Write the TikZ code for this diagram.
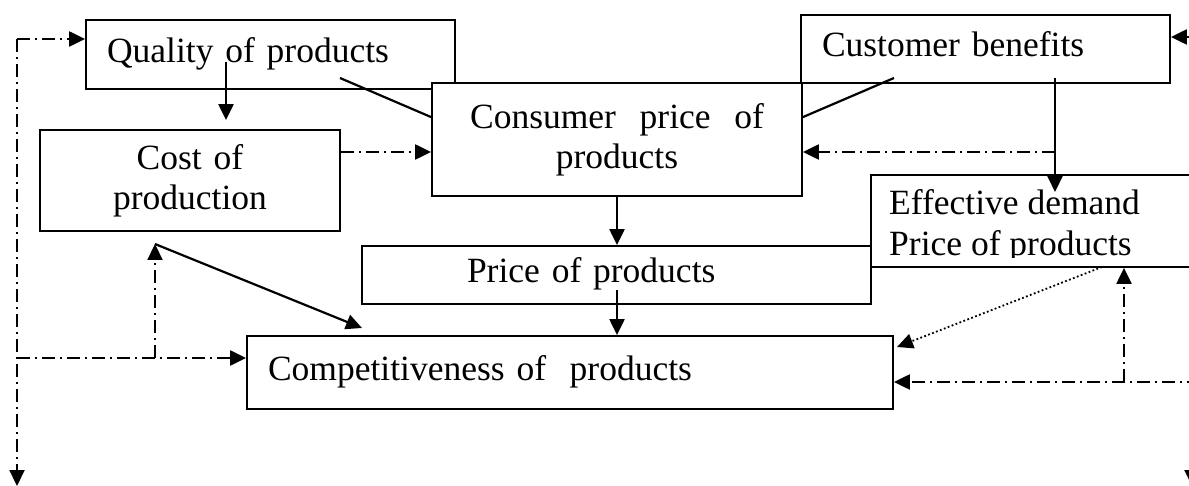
\documentclass[tikz,border=0pt]{standalone}
\usepackage{fontspec}
\setmainfont{Liberation Serif}
\usetikzlibrary{arrows.meta,calc}

\tikzset{
  box/.style={draw, line width=1.8pt, fill=white, inner sep=0pt,
    font=\fontsize{35.5pt}{40pt}\selectfont},
  onebox/.style={box, text height=24pt, text depth=8pt, align=left},
  twobox/.style={box, align=center},
  lbl/.style={inner sep=0pt, anchor=base west, font=\fontsize{35.5pt}{40pt}\selectfont},
  con/.style={line width=2.2pt},
  arr/.style={con, -{Triangle[length=16pt,width=15pt]}},
  dashdot/.style={dash pattern=on 13pt off 5pt on 2pt off 5pt},
  dots/.style={line width=1.8pt, dash pattern=on 1.8pt off 2.4pt},
}

\begin{document}
\begin{tikzpicture}[x=1pt,y=-1pt]
\useasboundingbox (0,0) rectangle (1189,486);

% boxes
\node[onebox, text width=327pt, inner xsep=21pt, minimum height=69pt] (quality) at (270.5,54.5) {Quality of products};
\node[onebox, text width=327pt, inner xsep=21pt, minimum height=68pt] (customer) at (985.5,49) {Customer benefits};
\node[twobox, text width=340pt, minimum width=370pt, minimum height=113pt] (consumer) at (617,139.5) {Consumer \ price \ of\\products};
\node[twobox, text width=280pt, minimum width=300pt, minimum height=101pt] (cost) at (190,180.5) {Cost of\\production};
\node[box, minimum width=334pt, minimum height=92pt] (effective) at (1038,221) {};
\begin{scope}
  \clip (871,175) rectangle (1189,257.5);
  \node[lbl] (efftop) at (889,215) {Effective demand};
  \node[lbl] (effbot) at (889,256) {Price of products};
\end{scope}
\node[onebox, text width=299pt, inner xsep=105pt, minimum height=58pt] (price) at (616.5,275) {Price of products};
\node[onebox, text width=604pt, inner xsep=21pt, minimum height=73pt] (comp) at (570,372.5) {Competitiveness of \ products};

% free ends
\coordinate (qa) at (226,62);
\coordinate (qb) at (340,78);
\coordinate (cb) at (894,78);
\coordinate (lvA) at (0,152);
\coordinate (bt) at (1055,78);
\coordinate (bd) at (1055,152);
\coordinate (bdn) at (1055,192);
\coordinate (pc) at (617,290);
\coordinate (cs) at (155,244);
\coordinate (ce) at (362,328);
\coordinate (cu) at (155,358);
\coordinate (lt) at (17,39);
\coordinate (lm) at (17,358);
\coordinate (lb) at (17,486);
\coordinate (rt) at (1200,37);
\coordinate (rm) at (1200,382);
\coordinate (rv) at (1124,382);
\coordinate (ds) at (1102,267);
\coordinate (de) at (897,347);
\coordinate (rb1) at (1192,455);
\coordinate (rb2) at (1192,486);

% solid connectors
\draw[arr, shorten >=9pt] (qa) -- (qa |- cost.north);
\draw[con] (qb) -- ($(consumer.north west)+(0,35)$);
\draw[con] (cb) -- ($(consumer.north east)+(0,35)$);
\draw[arr] (bt) -- (bdn);
\draw[arr] (consumer.south) -- (consumer.south |- price.north);
\draw[arr] (pc) -- (pc |- comp.north);
\draw[arr] (cs) -- (ce);
\draw[arr] (rt) -- (customer.east |- rt);

% dash-dot connectors
\draw[arr, dashdot] (cost.east |- lvA) -- (consumer.west |- lvA);
\draw[arr, dashdot] (bd) -- (consumer.east |- bd);
\draw[arr, dashdot] (lt) -- (quality.west |- lt);
\draw[arr, dashdot] (lt) -- (lb);
\draw[arr, dashdot] (lm) -- (comp.west |- lm);
\draw[arr, dashdot] (cu) -- (cs);
\draw[arr, dashdot] (rm) -- (comp.east |- rm);
\draw[arr, dashdot] (rv) -- (rv |- effective.south);
\draw[arr, dashdot] (rb1) -- (rb2);

% dotted
\draw[arr, dots] (ds) -- (de);

\end{tikzpicture}
\end{document}
